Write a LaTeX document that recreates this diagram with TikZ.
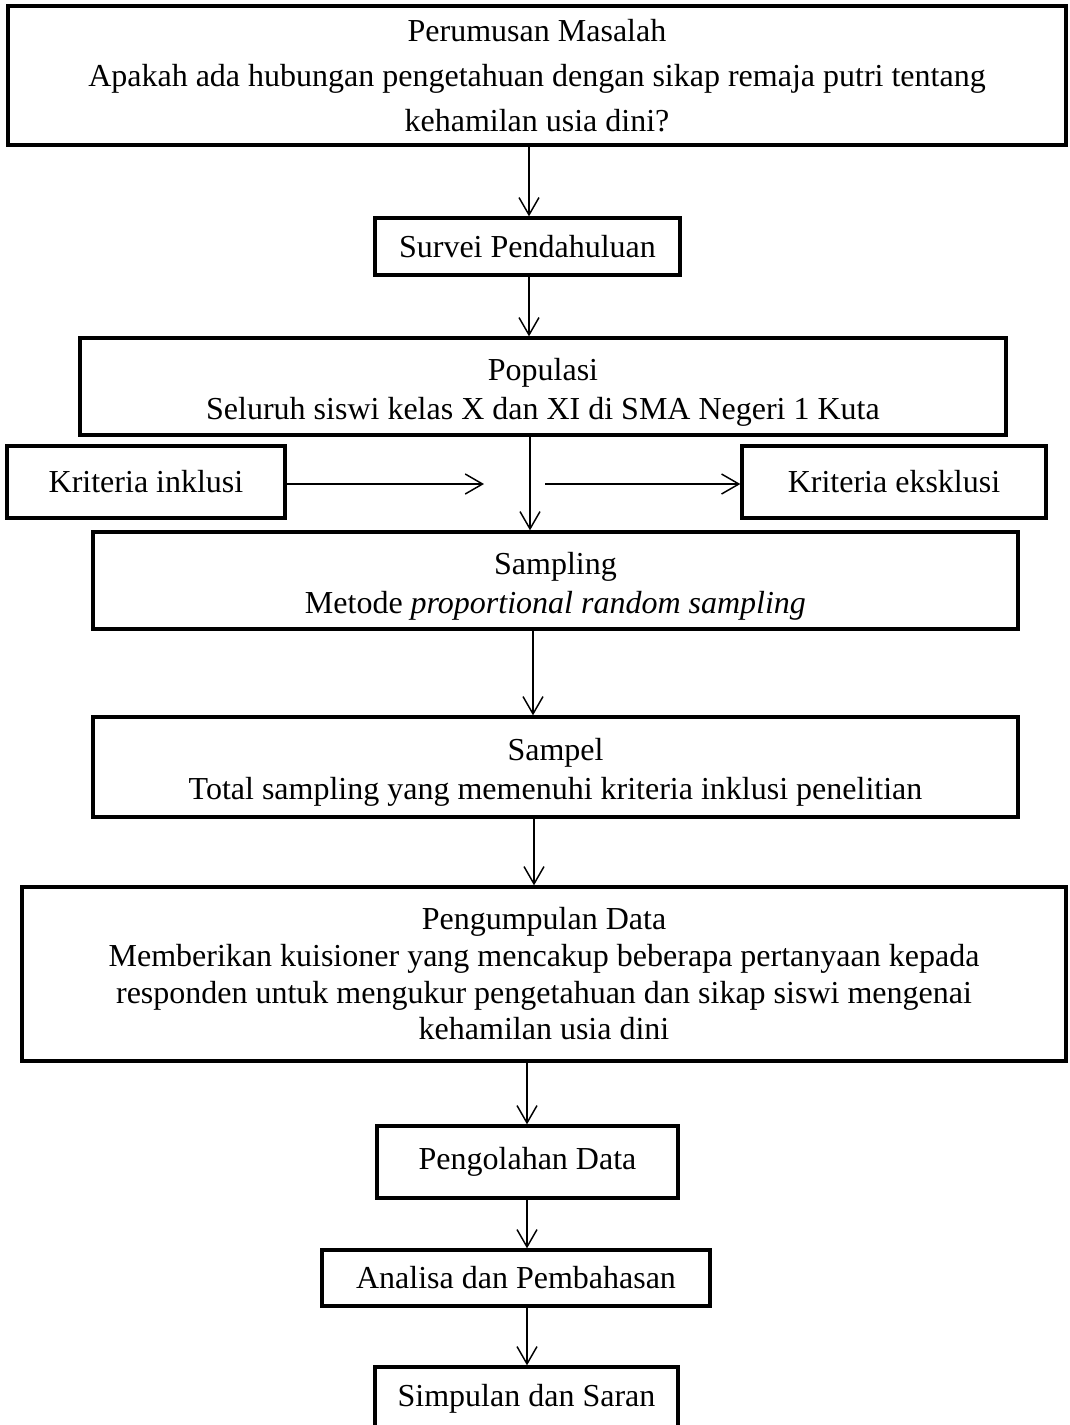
\documentclass[tikz,border=0pt]{standalone}
\usepackage{fontspec}
\setmainfont{Liberation Serif}
\usetikzlibrary{arrows.meta}
\newcommand{\lowstrut}{\rule{0pt}{25pt}}
\begin{document}
\begin{tikzpicture}[x=0.75pt,y=-0.75pt,
  box/.style={draw,line width=2.5pt,align=center,inner sep=0pt,
    font=\fontsize{24}{29.5}\selectfont},
  conn/.style={line width=1.1pt,-{Straight Barb[length=13pt,width=15pt,line width=1.1pt]}}]
\useasboundingbox (0,0) rectangle (1070,1425);
\node[box,minimum width=1058*0.75pt,minimum height=139*0.75pt,
  font=\fontsize{24}{34}\selectfont] (top) at (537,75.5)
  {Perumusan Masalah\\Apakah ada hubungan pengetahuan dengan sikap remaja putri tentang\\kehamilan usia dini?};
\node[box,minimum width=305*0.75pt,minimum height=57*0.75pt] (survei) at (527.5,246.5) {Survei Pendahuluan};
\node[box,minimum width=926*0.75pt,minimum height=97*0.75pt] (pop) at (543,386.5)
  {\lowstrut Populasi\\Seluruh siswi kelas X dan XI di SMA Negeri 1 Kuta};
\node[box,minimum width=278*0.75pt,minimum height=72*0.75pt] (inkl) at (146,482) {Kriteria inklusi};
\node[box,minimum width=304*0.75pt,minimum height=72*0.75pt] (eksk) at (894,482) {Kriteria eksklusi};
\node[box,minimum width=925*0.75pt,minimum height=97*0.75pt] (samp) at (555.5,580.5)
  {\lowstrut Sampling\\Metode \textit{proportional random sampling}};
\node[box,minimum width=925*0.75pt,minimum height=100*0.75pt] (sampel) at (555.5,767)
  {\lowstrut Sampel\\Total sampling yang memenuhi kriteria inklusi penelitian};
\node[box,minimum width=1044*0.75pt,minimum height=174*0.75pt,
  font=\fontsize{24}{27.5}\selectfont] (kumpul) at (544,974)
  {Pengumpulan Data\\Memberikan kuisioner yang mencakup beberapa pertanyaan kepada\\responden untuk mengukur pengetahuan dan sikap siswi mengenai\\kehamilan usia dini};
\node[box,minimum width=301*0.75pt,minimum height=72*0.75pt] (olah) at (527.5,1162) {Pengolahan Data};
\node[box,minimum width=388*0.75pt,minimum height=56*0.75pt] (anal) at (516,1278) {Analisa dan Pembahasan};
\node[box,minimum width=303*0.75pt,minimum height=63*0.75pt] (simp) at (526.5,1398.5) {Simpulan dan Saran};
% x positions of vertical connectors
\coordinate (xa) at (529,0);
\coordinate (xb) at (530,0);
\coordinate (xc) at (533,0);
\coordinate (xd) at (534,0);
\coordinate (xe) at (527,0);
\coordinate (inkEnd) at (484,484);
\coordinate (ekStart) at (545,484);
\draw[conn] (top.south -| xa) -- (survei.north -| xa);
\draw[conn] (survei.south -| xa) -- (pop.north -| xa);
\draw[conn] (pop.south -| xb) -- (samp.north -| xb);
\draw[conn] (inkl.east |- inkEnd) -- (inkEnd);
\draw[conn] (ekStart) -- (eksk.west |- ekStart);
\draw[conn] (samp.south -| xc) -- (sampel.north -| xc);
\draw[conn] (sampel.south -| xd) -- (kumpul.north -| xd);
\draw[conn] (kumpul.south -| xe) -- (olah.north -| xe);
\draw[conn] (olah.south -| xe) -- (anal.north -| xe);
\draw[conn] (anal.south -| xe) -- (simp.north -| xe);
\end{tikzpicture}
\end{document}
